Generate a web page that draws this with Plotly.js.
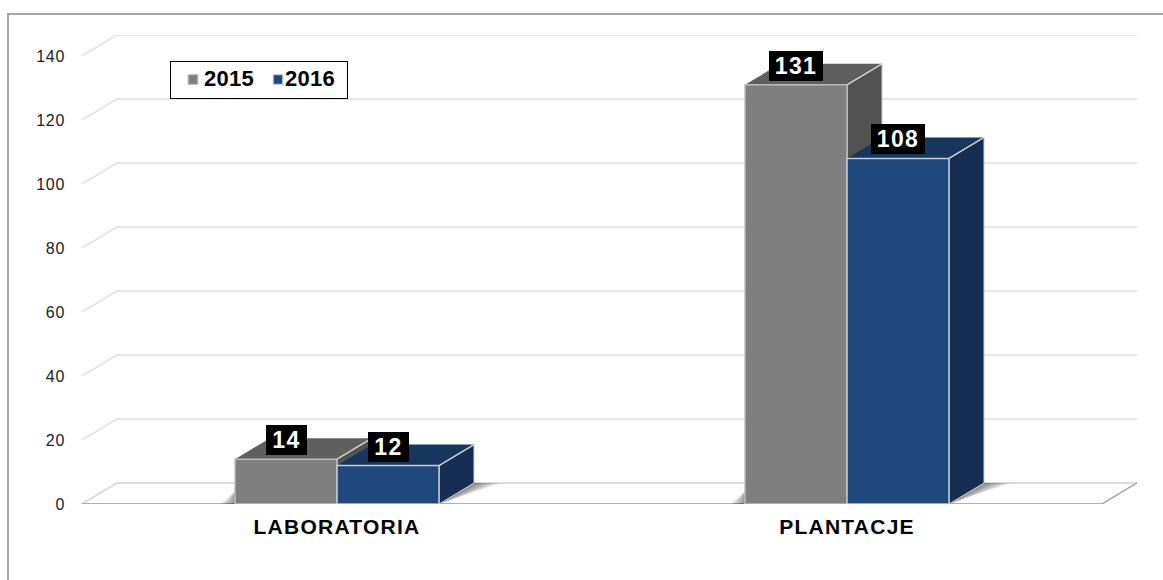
<!DOCTYPE html>
<html><head><meta charset="utf-8">
<script src="https://cdn.plot.ly/plotly-3.0.1.min.js"></script>
<style>html,body{margin:0;padding:0;background:#fff}#c{width:1163px;height:580px}
.xtick text{letter-spacing:1.25px}
.ytick text{letter-spacing:.7px}
.annotation-text{letter-spacing:1.4px}
.legendtext{font-size:22px !important;letter-spacing:.3px;transform:translateX(-9px)}
.legend .traces:nth-of-type(2) .legendtext{transform:translateX(-16px)}
.legend .traces .legendpoints path{transform:translate(20px,0) scale(.8) !important}
.legend .traces:nth-of-type(2) .legendpoints path{transform:translate(17px,0) scale(.8) !important}
</style>
</head><body><div id="c"></div>
<script>
const categories = ['LABORATORIA', 'PLANTACJE'];
const seriesNames = ['2015', '2016'];
const values2015 = [14, 131];
const values2016 = [12, 108];
const shownLabels2015 = ['14', '131'];
const shownLabels2016 = ['12', '108'];
const yTicks = [0, 20, 40, 60, 80, 100, 120, 140];
const colors2015 = {front: '#7f7f7f', top: '#5f5f5f', side: '#525252'};
const colors2016 = {front: '#1f497d', top: '#18375f', side: '#152e52'};

const W = 1163, H = 580, L = 82, R = 26, T = 35, B = 76;
const bandPx = 510, unitPx = 3.2, depthX = 35, depthY = 21;
const dx = depthX / bandPx, dy = depthY / unitPx;
const xMin = -0.5, xMax = 1.5 + dx, yMax = 140 + dy;
const barW = 0.2;
const pw = W - L - R, ph = H - T - B;
const px = v => (v - L) / pw, py = v => (H - B - v) / ph;
const edge = '#cfcfcf';

function poly(pts, fill, line, lw, opacity) {
  const path = pts.map((p, i) => (i ? 'L' : 'M') + p[0] + ',' + p[1]).join(' ') + ' Z';
  return {type: 'path', path, xref: 'x', yref: 'y', layer: 'below', fillcolor: fill, opacity: opacity === undefined ? 1 : opacity,
    line: {color: line || 'rgba(0,0,0,0)', width: lw || 0}};
}
function seg(x0, y0, x1, y1, color, w) {
  return {type: 'line', xref: 'x', yref: 'y', layer: 'below', x0, y0, x1, y1, line: {color, width: w}};
}
const shapes = [];
shapes.push({type: 'path', xref: 'paper', yref: 'paper', layer: 'below',
  path: `M${px(8)},${py(581)} L${px(8)},${py(14)} L${px(1164)},${py(14)}`, line: {color: '#a6a6a6', width: 2}});
yTicks.forEach(t => {
  if (t > 0) {
    shapes.push(seg(xMin, t, xMin + dx, t + dy, '#e6e6e6', 2));
    shapes.push(seg(xMin + dx, t + dy, xMax, t + dy, '#e6e6e6', 2));
  }
});
shapes.push(seg(xMin + dx, dy, xMax, dy, '#dcdcdc', 2));
shapes.push(seg(xMin, 0, xMin + dx, dy, '#dcdcdc', 2));
shapes.push(seg(1.5, 0, xMax, dy, '#a8a8a8', 1.5));
shapes.push(seg(xMin, 0, 1.5, 0, '#b0b0b0', 2));
categories.forEach((c, i) => {
  const right = i + barW, left = i - barW;
  for (let k = 1; k <= 10; k++) {
    const f = k / 10;
    shapes.push(poly([[right, 0], [right + dx, dy], [right + dx + 0.055 * f, dy], [right + 0.03 * f, dy * 0.25 * f]], '#000000', null, 0, 0.055));
    shapes.push(poly([[left, 0], [left, 4], [left - 0.03 * f, 0]], '#000000', null, 0, 0.05));
  }
});
function box(x0, x1, v, col) {
  shapes.push(poly([[x1, 0], [x1 + dx, dy], [x1 + dx, v + dy], [x1, v]], col.side, edge, 1));
  shapes.push(poly([[x0, v], [x0 + dx, v + dy], [x1 + dx, v + dy], [x1, v]], col.top, 'rgba(0,0,0,0)', 0));
  shapes.push(seg(x1, v, x1 + dx, v + dy, edge, 1.5));
}
categories.forEach((c, i) => {
  box(i - barW, i, values2015[i], colors2015);
  box(i, i + barW, values2016[i], colors2016);
});

const traces = [
  {type: 'bar', name: seriesNames[0], x: categories, y: values2015, marker: {color: colors2015.front, line: {color: '#bdbdbd', width: 1.5}}},
  {type: 'bar', name: seriesNames[1], x: categories, y: values2016, marker: {color: colors2016.front, line: {color: '#c4ccd8', width: 1.5}}}
];

function lab(i, off, text, v) {
  return {x: i + off, y: v, xref: 'x', yref: 'y', text: '<b>' + text + '</b>', showarrow: false,
    xanchor: 'center', yanchor: 'middle', yshift: 19, bgcolor: '#000', borderpad: 0, borderwidth: 0,
    width: text.length === 3 ? 54 : 41, height: 30, align: 'center',
    font: {family: 'Liberation Sans, Arial, sans-serif', size: 23, color: '#fff'}};
}
const annotations = [];
categories.forEach((c, i) => {
  annotations.push(lab(i, -barW / 2, shownLabels2015[i], values2015[i]));
  annotations.push(lab(i, barW / 2, shownLabels2016[i], values2016[i]));
});

const layout = {
  width: W, height: H, autosize: false,
  margin: {l: L, r: R, t: T, b: B, pad: 0},
  paper_bgcolor: '#fff', plot_bgcolor: 'rgba(0,0,0,0)',
  barmode: 'group', bargap: 1 - 2 * barW, bargroupgap: 0,
  font: {family: 'Liberation Sans, Arial, sans-serif', color: '#1a1a1a'},
  xaxis: {type: 'category', range: [xMin, xMax], showgrid: false, zeroline: false, showline: false, ticks: '',
    ticklabelstandoff: 8, tickfont: {size: 21, color: '#000', family: 'Liberation Sans, Arial, sans-serif', weight: 'bold'}},
  yaxis: {range: [0, yMax], tickvals: yTicks, ticktext: yTicks.map(String), showgrid: false, zeroline: false, showline: false,
    ticks: '', ticklabelstandoff: 16, tickfont: {size: 16, color: '#222'}},
  legend: {orientation: 'h', x: px(170), y: py(61), xanchor: 'left', yanchor: 'top', bgcolor: '#fff',
    bordercolor: '#000', borderwidth: 1, font: {size: 17, weight: 'bold', color: '#000'}, itemwidth: 30,
    indentation: 2, entrywidthmode: 'pixels', entrywidth: 41},
  shapes, annotations
};
Plotly.newPlot('c', traces, layout, {displayModeBar: false, staticPlot: true});
</script></body></html>
